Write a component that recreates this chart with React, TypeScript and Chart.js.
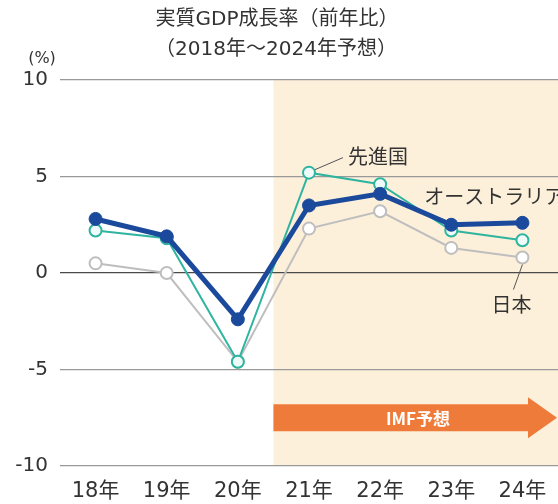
import React, { useEffect, useRef } from "react";
import { Chart, registerables } from "chart.js";

Chart.register(...registerables);

const categories = ["18年", "19年", "20年", "21年", "22年", "23年", "24年"];
const australia = [2.8, 1.9, -2.4, 3.5, 4.1, 2.5, 2.6];
const advanced = [2.2, 1.8, -4.6, 5.2, 4.6, 2.2, 1.7];
const japan = [0.5, 0.0, -4.6, 2.3, 3.2, 1.3, 0.8];
const yTicks = [-10, -5, 0, 5, 10];
const forecastStartIndex = 3;

const FONT = '"DejaVu Sans", "Noto Sans CJK JP", sans-serif';
const CJK = '"Noto Sans CJK JP", sans-serif';
const TEXT = "#333333";

const decorPlugin = {
  id: "decor",
  beforeDraw(chart: any) {
    const { ctx, chartArea, scales } = chart;
    const xs = scales.x;
    const ys = scales.y;
    const left = xs.getPixelForValue(forecastStartIndex - 0.5);
    const top = ys.getPixelForValue(10);
    const bottom = ys.getPixelForValue(-10);
    ctx.save();
    ctx.fillStyle = "#FDF0DA";
    ctx.fillRect(left, top, chartArea.right - left + 10, bottom - top);
    // titles
    ctx.fillStyle = TEXT;
    ctx.font = `20px ${FONT}`;
    ctx.textAlign = "center";
    ctx.textBaseline = "middle";
    ctx.fillText("実質GDP成長率（前年比）", 277, 20);
    ctx.fillText("（2018年～2024年予想）", 276, 50);
    ctx.font = `16px ${FONT}`;
    ctx.fillText("(%)", 42, 59);
    ctx.restore();
  },
  beforeDatasetsDraw(chart: any) {
    const { ctx, scales } = chart;
    const xs = scales.x;
    const ys = scales.y;
    const left = xs.getPixelForValue(forecastStartIndex - 0.5);
    const cy = ys.getPixelForValue(-7.5);
    const tip = 557;
    const headBase = 528;
    ctx.save();
    ctx.fillStyle = "#EF7B3B";
    ctx.beginPath();
    ctx.moveTo(left, cy - 13.5);
    ctx.lineTo(headBase, cy - 13.5);
    ctx.lineTo(headBase, cy - 20.5);
    ctx.lineTo(tip, cy);
    ctx.lineTo(headBase, cy + 20.5);
    ctx.lineTo(headBase, cy + 13.5);
    ctx.lineTo(left, cy + 13.5);
    ctx.closePath();
    ctx.fill();
    ctx.fillStyle = "#ffffff";
    ctx.font = `bold 17px ${CJK}`;
    ctx.textAlign = "center";
    ctx.textBaseline = "middle";
    ctx.fillText("IMF予想", 418, cy + 1);
    ctx.restore();
  },
  afterDraw(chart: any) {
    const { ctx } = chart;
    const advMeta = chart.getDatasetMeta(1).data;
    const jpMeta = chart.getDatasetMeta(2).data;
    const auMeta = chart.getDatasetMeta(0).data;
    ctx.save();
    ctx.strokeStyle = "#555555";
    ctx.lineWidth = 1;
    ctx.fillStyle = TEXT;
    ctx.font = `20px ${CJK}`;
    ctx.textBaseline = "middle";
    // 先進国
    const p = advMeta[3];
    ctx.beginPath();
    ctx.moveTo(p.x + 6, p.y - 3);
    ctx.lineTo(p.x + 34, p.y - 15);
    ctx.stroke();
    ctx.textAlign = "left";
    ctx.fillText("先進国", p.x + 39, p.y - 16);
    // オーストラリア
    const a = auMeta[5];
    ctx.fillText("オーストラリア", a.x - 27, a.y - 28);
    // 日本
    const j = jpMeta[6];
    ctx.beginPath();
    ctx.moveTo(j.x, j.y + 7);
    ctx.lineTo(j.x - 9, j.y + 32);
    ctx.stroke();
    ctx.textAlign = "center";
    ctx.fillText("日本", j.x - 11, j.y + 47);
    ctx.restore();
  },
};

export default function App() {
  const ref = useRef<HTMLCanvasElement | null>(null);
  useEffect(() => {
    if (!ref.current) return;
    Chart.defaults.font.family = FONT;
    const chart = new Chart(ref.current, {
      type: "line",
      data: {
        labels: categories,
        datasets: [
          {
            label: "オーストラリア",
            data: australia,
            borderColor: "#1B4A9C",
            backgroundColor: "#1B4A9C",
            borderWidth: 5,
            pointRadius: 6.5,
            pointBorderWidth: 1,
            pointBackgroundColor: "#1B4A9C",
            pointBorderColor: "#1B4A9C",
            tension: 0,
          },
          {
            label: "先進国",
            data: advanced,
            borderColor: "#2FB4A0",
            backgroundColor: "#2FB4A0",
            borderWidth: 2,
            pointRadius: 6,
            pointBorderWidth: 2,
            pointBackgroundColor: "#EEFBF8",
            pointBorderColor: "#2FB4A0",
            tension: 0,
          },
          {
            label: "日本",
            data: japan,
            borderColor: "#BEBEBE",
            backgroundColor: "#BEBEBE",
            borderWidth: 2,
            pointRadius: 6,
            pointBorderWidth: 2,
            pointBackgroundColor: "#ffffff",
            pointBorderColor: "#BEBEBE",
            tension: 0,
          },
        ],
      },
      options: {
        responsive: false,
        animation: false,
        devicePixelRatio: 1,
        layout: { padding: { top: 80, right: 3, left: 0, bottom: 0 } },
        plugins: {
          legend: { display: false },
          tooltip: { enabled: false },
          title: { display: false },
        },
        scales: {
          x: {
            offset: true,
            grid: { display: false, drawTicks: false },
            border: { display: false },
            ticks: {
              color: TEXT,
              font: { size: 21, family: FONT },
              padding: 13,
              maxRotation: 0,
              autoSkip: false,
            },
            afterFit(scale: any) {
              scale.height = 38;
            },
          },
          y: {
            min: -10,
            max: 10,
            afterBuildTicks(scale: any) {
              scale.ticks = yTicks.map((v) => ({ value: v }));
            },
            grid: {
              drawTicks: false,
              color: (c: any) => (c.tick && c.tick.value === 0 ? "#4a4a4a" : "#999999"),
              lineWidth: 1.3,
            },
            border: { display: false },
            ticks: {
              color: TEXT,
              font: { size: 20, family: FONT },
              padding: 12,
            },
            afterFit(scale: any) {
              scale.width = 60;
            },
          },
        },
      },
      plugins: [decorPlugin],
    });
    return () => chart.destroy();
  }, []);
  return (
    <div
      style={{
        position: "fixed",
        left: 0,
        top: 0,
        width: 558,
        height: 504,
        overflow: "hidden",
        background: "#ffffff",
      }}
    >
      <canvas ref={ref} width={566} height={504} style={{ display: "block" }} />
    </div>
  );
}
